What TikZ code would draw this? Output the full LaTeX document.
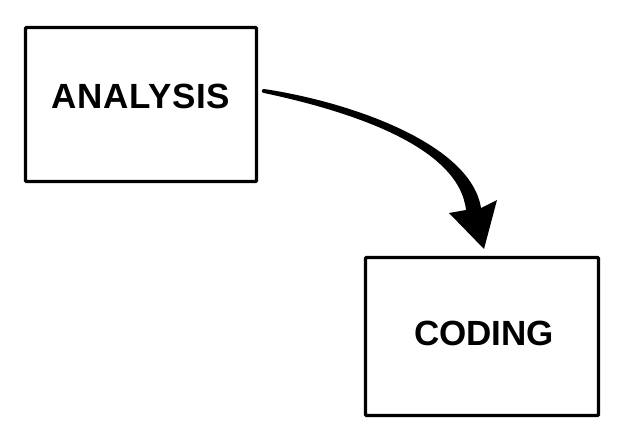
\documentclass[tikz,border=0pt]{standalone}
\usepackage{fontspec}
\setmainfont{Liberation Sans}
\begin{document}
\begin{tikzpicture}[x=1pt,y=-1pt,
  box/.style={draw=black,line width=3.3pt,inner sep=0pt,outer sep=0pt,rounded corners=1pt,
    font=\fontsize{35}{40}\selectfont\bfseries,text height=25pt},
  arrowfill/.style={fill=black}]
\useasboundingbox[fill=white] (0,0) rectangle (622,434);
\node[box,minimum width=231pt,minimum height=154pt,text depth=17pt] (a) at (141,104.5) {\addfontfeature{LetterSpace=2}ANALYSIS};
\node[box,minimum width=233pt,minimum height=158pt,text depth=7pt] (b) at (482,336.5) {\hspace*{4pt}CODING};
% tapered curved arrow from (a) to (b)
\coordinate (s) at (264,91);
\coordinate (t) at (484,249);
\fill[arrowfill] (264,89) .. controls (351,102) and (471,144) .. (481,208)
  -- (497,200) -- (t) -- (449,213) -- (466,210)
  .. controls (459,146) and (349,111) .. (264,93)
  .. controls (261,93) and (261,89) .. (264,89) -- cycle;
\end{tikzpicture}
\end{document}
